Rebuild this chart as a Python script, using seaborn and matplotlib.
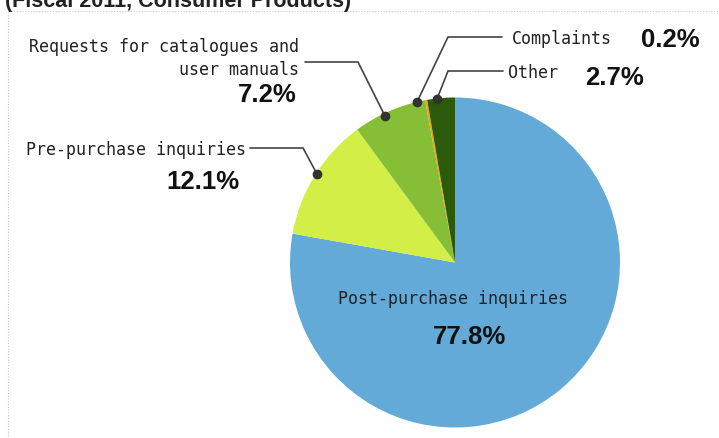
import numpy as np
import matplotlib
matplotlib.use("Agg")
import matplotlib.pyplot as plt
import seaborn as sns
from matplotlib.lines import Line2D

# ---- data ----
categories = ["Post-purchase inquiries", "Pre-purchase inquiries",
              "Requests for catalogues and\nuser manuals", "Complaints", "Other"]
shares = [77.8, 12.1, 7.2, 0.2, 2.7]
pct_labels = ["77.8%", "12.1%", "7.2%", "0.2%", "2.7%"]
title = "(Fiscal 2011, Consumer Products)"

colors = ["#63aad8", "#d3ef47", "#86bf36", "#f0a30a", "#2b5a0b"]

sns.set_theme(style="white")
plt.rcParams["font.family"] = ["DejaVu Sans"]

W, H = 719, 439
fig = plt.figure(figsize=(W / 100, H / 100), dpi=100)
ax = fig.add_axes([0, 0, 1, 1])

cx, cy, R = 455, 263.5, 165


def P(x, y):
    return x, H - y


wedges, _ = ax.pie(shares, colors=colors, startangle=90, counterclock=False,
                   center=P(cx, cy), radius=R,
                   wedgeprops=dict(linewidth=0))
ax.set_xlim(0, W)
ax.set_ylim(0, H)
ax.set_aspect("equal")
ax.axis("off")

mono = "DejaVu Sans Mono"
bold = "Liberation Sans"
lab_col = "#222222"
line_col = "#444444"

# leader lines: (dot, corner, end) in pixel coords
leaders = {
    1: [(317, 175), (303, 149), (250, 149)],
    2: [(385, 117), (358, 63), (305, 63)],
    3: [(417, 103), (448, 38), (502, 38)],
    4: [(437, 100), (448, 72), (503, 72)],
}
for idx, pts in leaders.items():
    xs = [P(*p)[0] for p in pts]
    ys = [P(*p)[1] for p in pts]
    ax.plot(xs, ys, color=line_col, lw=1.2, solid_joinstyle="miter", zorder=3)
    ax.plot(xs[0], ys[0], "o", color="#333333", ms=6, zorder=4)

# labels
ax.text(*P(453, 299), categories[0], family=mono, size=12, color=lab_col,
        ha="center", va="center")
ax.text(*P(470, 337), pct_labels[0], family=bold, weight="bold", size=18.5,
        color="#111111", ha="center", va="center")

ax.text(*P(246, 150), categories[1], family=mono, size=12, color=lab_col,
        ha="right", va="center")
ax.text(*P(240, 182), pct_labels[1], family=bold, weight="bold", size=18.5,
        color="#111111", ha="right", va="center")

l1, l2 = categories[2].split("\n")
ax.text(*P(299, 47), l1, family=mono, size=12, color=lab_col,
        ha="right", va="center")
ax.text(*P(299, 70), l2, family=mono, size=12, color=lab_col,
        ha="right", va="center")
ax.text(*P(297, 95), pct_labels[2], family=bold, weight="bold", size=18.5,
        color="#111111", ha="right", va="center")

ax.text(*P(512, 39), categories[3], family=mono, size=12, color=lab_col,
        ha="left", va="center")
ax.text(*P(641, 40), pct_labels[3], family=bold, weight="bold", size=18.5,
        color="#111111", ha="left", va="center")

ax.text(*P(508, 73), categories[4], family=mono, size=12, color=lab_col,
        ha="left", va="center")
ax.text(*P(585, 78), pct_labels[4], family=bold, weight="bold", size=18.5,
        color="#111111", ha="left", va="center")

# cut-off title at top
fig.text(5 / W, 1 - 7.5 / H, title, family=bold, weight="bold", size=15.5,
         color="#222222", ha="left", va="baseline")

# dotted frame
fig.add_artist(Line2D([8 / W, 1], [1 - 11.5 / H, 1 - 11.5 / H],
                      color="#c8c8c8", lw=0.8, ls=(0, (1, 1.5))))
fig.add_artist(Line2D([8 / W, 8 / W], [0, 1 - 11.5 / H],
                      color="#c8c8c8", lw=0.8, ls=(0, (1, 1.5))))

fig.savefig("out.png", dpi=100)
